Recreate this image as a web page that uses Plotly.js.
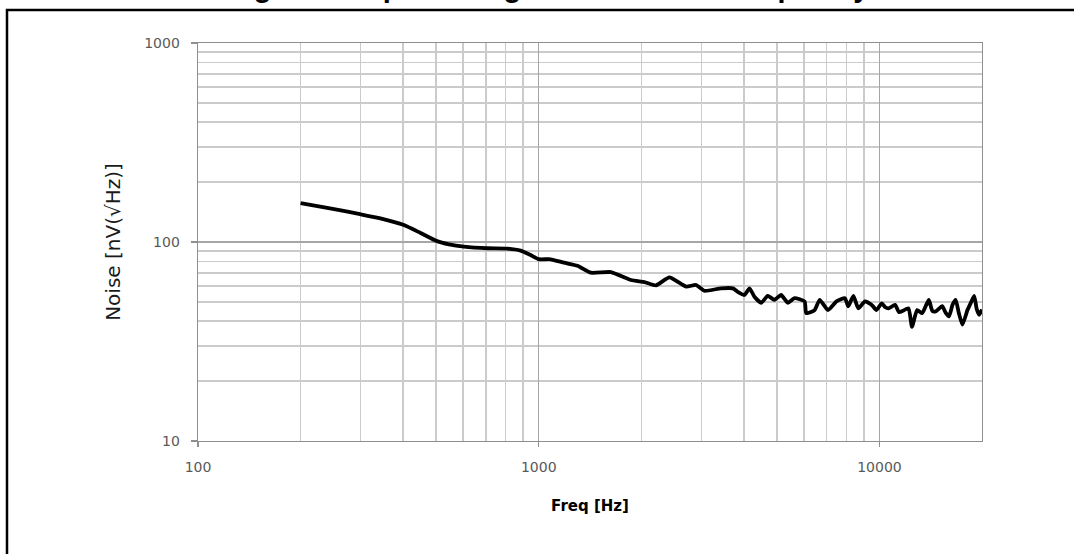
<!DOCTYPE html>
<html>
<head>
<meta charset="utf-8">
<script src="https://cdn.plot.ly/plotly-3.0.1.min.js"></script>
<style>html,body{margin:0;padding:0;background:#fff;}#chart{width:1074px;height:554px;}</style>
</head>
<body>
<div id="chart"></div>
<script>
// Data
const freqHz = [200, 244, 299, 343, 402, 450, 503, 545, 603, 706, 809, 885, 947, 1000, 1084, 1187, 1299, 1422, 1629, 1866, 2044, 2209, 2418, 2706, 2897, 3063, 3428, 3717, 3838, 4017, 4156, 4297, 4497, 4700, 4918, 5146, 5384, 5633, 6030, 6098, 6454, 6679, 7064, 7482, 7920, 8100, 8385, 8670, 9070, 9492, 9800, 10160, 10400, 10630, 11120, 11400, 11630, 12170, 12460, 12900, 13350, 13700, 13970, 14300, 14620, 15290, 15650, 16000, 16400, 16740, 17100, 17520, 18130, 18500, 18970, 19300, 19640, 20000];
const noiseNv = [157, 147.6, 138, 131.5, 121.7, 111, 101, 97.4, 94.8, 93, 92.7, 90.5, 86, 82, 81.9, 78.7, 76.0, 70.1, 70.6, 64.4, 62.9, 60.6, 66.4, 59.7, 60.8, 56.9, 58.5, 58.5, 56.2, 54.2, 58.5, 53.1, 49.5, 53.6, 51.2, 54.2, 49.5, 52.2, 50.3, 43.9, 45.5, 51.2, 45.5, 50.3, 52.2, 47.5, 53.6, 46.4, 50.3, 48.3, 45.5, 49.2, 47.0, 46.4, 48.3, 44.5, 44.8, 46.4, 37.5, 45.5, 43.9, 48.0, 51.2, 45.0, 44.8, 47.6, 44.0, 42.3, 48.5, 51.2, 44.0, 38.4, 45.5, 49.0, 53.6, 46.0, 43.1, 45.8];

const xTickVals = [100, 1000, 10000];
const xTickText = ["100", "1000", "10000"];
const xMinorVals = [200, 300, 400, 500, 600, 700, 800, 900, 2000, 3000, 4000, 5000, 6000, 7000, 8000, 9000];
const yTickVals = [10, 100, 1000];
const yTickText = ["10", "100", "1000"];
const yMinorVals = [20, 30, 40, 50, 60, 70, 80, 90, 200, 300, 400, 500, 600, 700, 800, 900];

const chartTitle = "Figure 6. Input voltage noise versus frequency";
const xTitle = "Freq [Hz]";
const yTitle = "Noise [nV(√Hz)]";

const L = 198, R = 92, T = 43, B = 113, W = 1074, H = 554;
const pw = W - L - R, ph = H - T - B;
const px = x => (x - L) / pw;
const py = y => 1 - (y - T) / ph;

const trace = {
  x: freqHz, y: noiseNv, type: 'scatter', mode: 'lines',
  line: {color: '#000000', width: 3.8, shape: 'spline', smoothing: 0.5},
  hoverinfo: 'x+y'
};

const gridMinor = '#cbcbcb', gridMajor = '#a6a6a6', axisCol = '#8f8f8f';
const tickFont = {family: 'DejaVu Sans', size: 14, color: '#595959'};

const layout = {
  width: W, height: H,
  margin: {l: L, r: R, t: T, b: B, pad: 0},
  paper_bgcolor: '#ffffff', plot_bgcolor: '#ffffff',
  showlegend: false,
  xaxis: {
    type: 'log', range: [2, Math.log10(20000)], autorange: false,
    tickmode: 'array', tickvals: xTickVals, ticktext: xTickText,
    showgrid: true, gridcolor: gridMajor, gridwidth: 1.4,
    minor: {tickmode: 'array', tickvals: xMinorVals, showgrid: true, gridcolor: gridMinor, gridwidth: 1.4, ticks: ''},
    showline: true, linecolor: axisCol, linewidth: 1.4, mirror: true,
    ticks: 'outside', ticklen: 5, tickcolor: axisCol, tickwidth: 1.2,
    ticklabelstandoff: 8,
    zeroline: false, tickfont: tickFont,
    title: {text: xTitle, font: {family: 'DejaVu Sans', size: 15, color: '#000000', weight: 'bold'}, standoff: 26}
  },
  yaxis: {
    type: 'log', range: [1, 3], autorange: false,
    tickmode: 'array', tickvals: yTickVals, ticktext: yTickText,
    showgrid: true, gridcolor: gridMajor, gridwidth: 1.4,
    minor: {tickmode: 'array', tickvals: yMinorVals, showgrid: true, gridcolor: gridMinor, gridwidth: 1.4, ticks: ''},
    showline: true, linecolor: axisCol, linewidth: 1.4, mirror: true,
    ticks: 'outside', ticklen: 6, tickcolor: axisCol, tickwidth: 1.2,
    ticklabelstandoff: 8,
    zeroline: false, tickfont: tickFont,
    title: {text: yTitle, font: {family: 'DejaVu Sans', size: 20, color: '#1a1a1a'}, standoff: 18}
  },
  shapes: [{
    type: 'rect', xref: 'paper', yref: 'paper',
    x0: px(7), x1: px(1100), y0: py(600), y1: py(10),
    line: {color: '#000000', width: 2.5}, fillcolor: 'rgba(0,0,0,0)', layer: 'above'
  }],
  annotations: [{
    text: chartTitle, xref: 'paper', yref: 'paper',
    x: px(548), y: py(-13), xanchor: 'center', yanchor: 'middle',
    showarrow: false,
    font: {family: 'Liberation Sans', size: 29, color: '#000000', weight: 'bold'}
  }]
};

Plotly.newPlot('chart', [trace], layout, {displayModeBar: false, staticPlot: true});
</script>
</body>
</html>
